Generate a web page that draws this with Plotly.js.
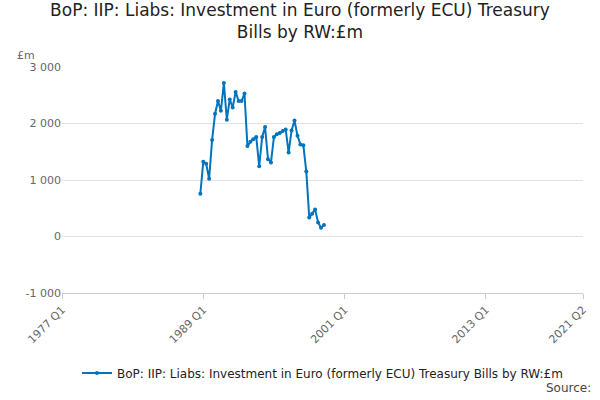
<!DOCTYPE html>
<html>
<head>
<script src="https://cdn.plot.ly/plotly-3.0.1.min.js"></script>
<style>body{margin:0}</style>
</head>
<body>
<div id="myDiv" style="width:600px;height:400px"></div>
<script>
var values = [757, 1323, 1288, 1022, 1710, 2172, 2397, 2224, 2715, 2068, 2426, 2282, 2559, 2397, 2397, 2530,
  1600, 1675, 1721, 1762, 1242, 1762, 1936, 1369, 1311, 1762, 1808, 1831, 1866, 1895, 1485, 1878, 2051,
  1785, 1629, 1617, 1149, 335, 404, 480, 248, 156, 202];
var dates = [];
for (var i = 0; i < values.length; i++) {
  var m = 10 + i * 3;
  var y = 1988 + Math.floor((m - 1) / 12);
  var mm = ((m - 1) % 12) + 1;
  dates.push(y + '-' + (mm < 10 ? '0' + mm : mm) + '-01');
}
var tickVals = ['1977-01-01', '1989-01-01', '2001-01-01', '2013-01-01', '2021-04-01'];
var tickText = ['1977 Q1', '1989 Q1', '2001 Q1', '2013 Q1', '2021 Q2'];

var trace = {
  x: dates,
  y: values,
  type: 'scatter',
  mode: 'lines+markers',
  name: 'BoP: IIP: Liabs: Investment in Euro (formerly ECU) Treasury Bills by RW:£m',
  line: {color: '#0075be', width: 2},
  marker: {color: '#0075be', size: 4}
};

var layout = {
  width: 600,
  height: 400,
  font: {family: 'DejaVu Sans', color: '#444'},
  title: {text: 'BoP: IIP: Liabs: Investment in Euro (formerly ECU) Treasury<br>Bills by RW:£m', font: {size: 17, color: '#222'}, y: 0.96},
  margin: {l: 62, r: 17, t: 67, b: 102},
  showlegend: true,
  legend: {orientation: 'h', x: 0.5, xanchor: 'center', y: -0.29, yanchor: 'top', font: {size: 12, color: '#222'}},
  xaxis: {
    type: 'date',
    range: ['1977-01-01', '2021-04-01'],
    tickvals: tickVals,
    ticktext: tickText,
    tickangle: -45,
    showgrid: false,
    ticks: 'outside',
    ticklen: 5,
    tickcolor: '#ccc',
    showline: true,
    linecolor: '#ccc',
    tickfont: {size: 11, color: '#666'}
  },
  yaxis: {
    range: [-1000, 3000],
    tickvals: [-1000, 0, 1000, 2000, 3000],
    ticktext: ['-1 000', '0', '1 000', '2 000', '3 000'],
    gridcolor: '#e0e0e0',
    zeroline: false,
    tickfont: {size: 11, color: '#666'}
  },
  annotations: [
    {text: '£m', xref: 'paper', yref: 'paper', x: -0.09, y: 1.09, xanchor: 'left', showarrow: false, font: {size: 11, color: '#666'}},
    {text: 'Source:', xref: 'paper', yref: 'paper', x: 1.02, y: -0.38, xanchor: 'right', yanchor: 'top', showarrow: false, font: {size: 12, color: '#444'}}
  ]
};

Plotly.newPlot('myDiv', [trace], layout, {displayModeBar: false});
</script>
</body>
</html>
